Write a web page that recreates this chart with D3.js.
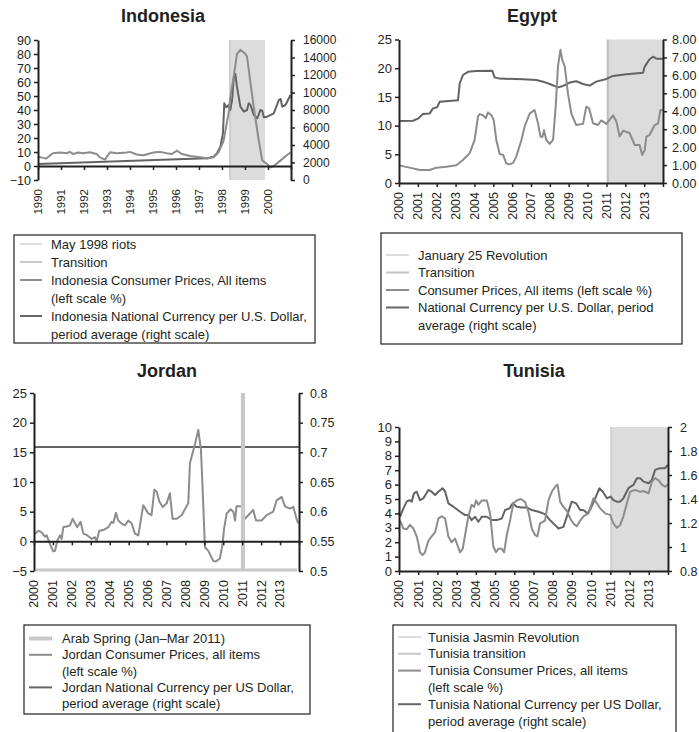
<!DOCTYPE html>
<html>
<head>
<meta charset="utf-8">
<script src="https://cdn.jsdelivr.net/npm/d3@7"></script>
<style>
  body { margin: 0; background: #fff; }
  svg { display: block; font-family: "Liberation Sans", Arial, sans-serif; }
</style>
</head>
<body>
<script>
// ---- data: [year, value] ----
var indonesiaCpi = [
  [1990.00, 6.7], [1990.22, 5.8], [1990.36, 5.3], [1990.51, 7.4], [1990.65, 9.1], [1990.95, 9.6],
  [1991.24, 9.1], [1991.38, 10.1], [1991.53, 8.6], [1991.75, 9.6], [1991.96, 9.1], [1992.25, 9.8],
  [1992.55, 8.6], [1992.69, 6.2], [1992.91, 4.6], [1993.13, 9.8], [1993.42, 9.1], [1993.85, 9.6],
  [1994.00, 10.1], [1994.29, 8.2], [1994.58, 7.7], [1995.02, 9.6], [1995.31, 10.1], [1995.60, 9.1],
  [1995.82, 8.6], [1996.04, 11.0], [1996.25, 8.6], [1996.62, 7.2], [1997.05, 6.2], [1997.35, 5.3],
  [1997.64, 6.2], [1997.85, 9.8], [1998.07, 18], [1998.29, 38], [1998.36, 49], [1998.51, 64],
  [1998.65, 80], [1998.80, 83], [1999.02, 80], [1999.09, 78], [1999.24, 59], [1999.38, 42],
  [1999.60, 18], [1999.75, 4], [1999.96, 1.4], [2000.11, -1], [2000.25, 0], [2000.55, 4],
  [2000.84, 8], [2000.98, 9.6]
];
var indonesiaFx = [
  [1990.00, 1830], [1997.35, 2480], [1997.64, 2670], [1997.78, 3050], [1997.93, 3810], [1998.04, 5330],
  [1998.10, 8760], [1998.19, 8300], [1998.29, 8570], [1998.36, 8000], [1998.44, 9140], [1998.51, 11620],
  [1998.58, 12110], [1998.65, 10670], [1998.80, 8380], [1998.95, 7810], [1999.09, 8000], [1999.16, 8760],
  [1999.24, 8570], [1999.38, 7430], [1999.53, 7050], [1999.67, 8000], [1999.75, 7920], [1999.82, 7160],
  [1999.96, 7240], [2000.25, 7620], [2000.47, 9140], [2000.55, 9260], [2000.62, 8380], [2000.76, 8570],
  [2000.98, 9710]
];
var indonesiaRiots = 1998.35;
var indonesiaTransition = [1998.35, 1999.87];

var egyptCpi = [
  [2000.00, 3.1], [2000.30, 2.85], [2000.74, 2.55], [2001.10, 2.26], [2001.63, 2.26], [2001.98, 2.67],
  [2002.51, 2.85], [2003.04, 3.1], [2003.39, 4.0], [2003.75, 5.2], [2004.01, 7.5], [2004.19, 11.6],
  [2004.28, 12.0], [2004.45, 11.8], [2004.60, 11.3], [2004.72, 12.3], [2004.90, 11.8], [2005.02, 11.0],
  [2005.16, 7.5], [2005.34, 5.05], [2005.52, 4.9], [2005.69, 3.4], [2005.87, 3.25], [2006.05, 3.5],
  [2006.22, 4.6], [2006.49, 7.5], [2006.66, 9.8], [2006.93, 12.1], [2007.19, 12.7], [2007.37, 10.4],
  [2007.50, 8.1], [2007.60, 8.0], [2007.69, 9.2], [2007.81, 7.5], [2007.99, 6.8], [2008.17, 7.5],
  [2008.31, 13.3], [2008.43, 20.3], [2008.56, 23.2], [2008.66, 21.4], [2008.79, 20.3], [2008.96, 15.6],
  [2009.14, 12.1], [2009.40, 10.1], [2009.76, 10.3], [2009.93, 13.3], [2010.08, 13.0], [2010.29, 10.4],
  [2010.55, 10.1], [2010.73, 10.9], [2011.00, 10.3], [2011.35, 11.8], [2011.53, 10.7], [2011.70, 8.1],
  [2011.88, 9.1], [2012.23, 8.7], [2012.50, 6.6], [2012.76, 6.6], [2012.90, 4.9], [2013.03, 5.75],
  [2013.12, 8.1], [2013.29, 8.4], [2013.56, 10.1], [2013.74, 10.4], [2013.86, 12.7], [2014.00, 12.7]
];
var egyptFx = [
  [2000.00, 3.46], [2000.74, 3.47], [2001.01, 3.59], [2001.27, 3.85], [2001.63, 3.88], [2001.80, 4.16],
  [2002.02, 4.22], [2002.16, 4.53], [2003.13, 4.62], [2003.22, 5.56], [2003.39, 6.02], [2003.66, 6.2],
  [2004.10, 6.25], [2004.95, 6.26], [2005.07, 5.89], [2005.34, 5.82], [2006.58, 5.78], [2007.28, 5.74],
  [2007.64, 5.65], [2007.99, 5.52], [2008.43, 5.33], [2008.70, 5.41], [2009.05, 5.6], [2009.40, 5.67],
  [2009.76, 5.52], [2010.11, 5.43], [2010.46, 5.65], [2011.00, 5.8], [2011.35, 5.97], [2012.06, 6.06],
  [2012.94, 6.15], [2013.03, 6.49], [2013.29, 6.9], [2013.47, 7.04], [2013.65, 6.93], [2014.00, 6.93]
];
var egyptRevolution = 2011.07;
var egyptTransition = [2011.07, 2014];

var jordanCpi = [
  [2000.05, 1.26], [2000.23, 1.8], [2000.40, 1.5], [2000.58, 0.8], [2000.67, 1.0], [2000.85, -0.5],
  [2001.02, -1.7], [2001.11, -1.6], [2001.23, 0.1], [2001.37, 1.0], [2001.46, 0.4], [2001.55, 2.4],
  [2001.73, 2.5], [2001.90, 2.7], [2002.04, 3.8], [2002.17, 3.0], [2002.29, 2.4], [2002.46, 3.3],
  [2002.61, 1.3], [2002.82, 1.0], [2003.05, 0.4], [2003.22, 0.7], [2003.31, 0], [2003.45, 1.8],
  [2003.66, 1.9], [2003.93, 2.4], [2004.10, 3.3], [2004.19, 3.1], [2004.33, 4.8], [2004.45, 3.5],
  [2004.63, 3.0], [2004.81, 2.7], [2004.98, 3.5], [2005.16, 3.0], [2005.33, 1.3], [2005.51, 1.0],
  [2005.60, 2.7], [2005.77, 6.1], [2005.92, 5.3], [2006.04, 4.7], [2006.21, 4.4], [2006.36, 8.7],
  [2006.48, 8.4], [2006.62, 6.7], [2006.80, 5.8], [2007.01, 6.4], [2007.18, 8.1], [2007.32, 3.8],
  [2007.54, 3.8], [2007.80, 4.4], [2008.15, 6.4], [2008.24, 13.2], [2008.33, 14.3], [2008.50, 16.3],
  [2008.68, 18.8], [2008.82, 15.4], [2008.91, 8.7], [2009.03, -1.0], [2009.21, -1.6], [2009.38, -2.7],
  [2009.47, -3.3], [2009.61, -3.4], [2009.82, -2.9], [2009.96, -0.5], [2010.04, 2.1], [2010.18, 4.7],
  [2010.39, 5.4], [2010.53, 5.0], [2010.62, 3.5], [2010.70, 5.9], [2010.97, 5.9], [2011.14, 3.8],
  [2011.32, 4.4], [2011.58, 5.3], [2011.73, 3.5], [2012.02, 3.5], [2012.29, 4.4], [2012.64, 5.0],
  [2012.82, 6.9], [2013.08, 7.5], [2013.26, 5.9], [2013.52, 5.5], [2013.70, 5.8], [2013.87, 3.8],
  [2013.96, 3.0]
];
var jordanFx = [[2000.00, 0.709], [2014.00, 0.709]];
var jordanSpring = [2010.93, 2011.15];

var tunisiaCpi = [
  [2000.05, 3.5], [2000.23, 2.95], [2000.40, 2.9], [2000.57, 3.2], [2000.75, 2.95], [2000.92, 2.4],
  [2001.01, 1.9], [2001.09, 1.3], [2001.23, 1.1], [2001.35, 1.3], [2001.53, 2.1], [2001.70, 2.4],
  [2001.88, 2.7], [2002.05, 3.65], [2002.22, 3.8], [2002.40, 3.65], [2002.57, 2.4], [2002.74, 2.0],
  [2002.92, 2.25], [2003.04, 1.8], [2003.18, 1.3], [2003.32, 1.55], [2003.44, 2.5], [2003.61, 3.8],
  [2003.78, 4.6], [2003.91, 4.45], [2004.01, 4.9], [2004.13, 4.6], [2004.31, 4.9], [2004.57, 4.9],
  [2004.74, 4.0], [2004.91, 1.7], [2005.05, 1.3], [2005.17, 1.55], [2005.35, 1.55], [2005.47, 1.3],
  [2005.61, 2.5], [2005.78, 3.5], [2005.95, 4.7], [2006.13, 4.9], [2006.34, 5.0], [2006.56, 4.8],
  [2006.74, 4.1], [2006.91, 2.95], [2007.08, 2.5], [2007.20, 2.4], [2007.34, 3.3], [2007.60, 3.5],
  [2007.78, 4.9], [2007.95, 5.5], [2008.13, 5.85], [2008.25, 6.0], [2008.39, 4.8], [2008.56, 4.45],
  [2008.73, 4.2], [2008.91, 3.65], [2009.08, 3.3], [2009.25, 3.1], [2009.43, 3.5], [2009.60, 3.8],
  [2009.86, 4.0], [2010.12, 5.05], [2010.30, 4.7], [2010.47, 4.35], [2010.73, 4.0], [2010.99, 3.9],
  [2011.16, 3.3], [2011.34, 3.0], [2011.51, 3.2], [2011.68, 3.8], [2011.86, 4.7], [2012.03, 5.5],
  [2012.20, 5.6], [2012.38, 5.6], [2012.55, 5.5], [2012.73, 5.55], [2012.99, 5.4], [2013.16, 6.2],
  [2013.33, 6.45], [2013.51, 6.3], [2013.68, 6.0], [2013.85, 5.85], [2013.99, 6.0]
];
var tunisiaFx = [
  [2000.05, 1.252], [2000.23, 1.322], [2000.40, 1.378], [2000.54, 1.39], [2000.66, 1.378], [2000.78, 1.447],
  [2000.92, 1.461], [2001.09, 1.39], [2001.27, 1.406], [2001.53, 1.475], [2001.70, 1.461], [2001.88, 1.434],
  [2002.05, 1.461], [2002.27, 1.49], [2002.40, 1.461], [2002.57, 1.364], [2002.83, 1.336], [2003.18, 1.294],
  [2003.44, 1.266], [2003.61, 1.266], [2003.78, 1.224], [2003.96, 1.252], [2004.13, 1.21], [2004.31, 1.252],
  [2004.57, 1.252], [2004.83, 1.224], [2005.09, 1.224], [2005.35, 1.238], [2005.52, 1.308], [2005.75, 1.322],
  [2005.92, 1.364], [2006.13, 1.336], [2006.39, 1.33], [2006.65, 1.33], [2006.91, 1.308], [2007.26, 1.294],
  [2007.60, 1.274], [2007.86, 1.224], [2008.13, 1.182], [2008.30, 1.154], [2008.56, 1.168], [2008.73, 1.252],
  [2008.99, 1.378], [2009.22, 1.364], [2009.43, 1.308], [2009.60, 1.308], [2009.81, 1.28], [2009.98, 1.322],
  [2010.21, 1.406], [2010.43, 1.489], [2010.61, 1.461], [2010.82, 1.406], [2011.02, 1.42], [2011.16, 1.39],
  [2011.34, 1.378], [2011.51, 1.378], [2011.68, 1.406], [2011.94, 1.49], [2012.20, 1.517], [2012.38, 1.573],
  [2012.55, 1.573], [2012.73, 1.545], [2012.99, 1.531], [2013.16, 1.559], [2013.33, 1.643], [2013.59, 1.657],
  [2013.85, 1.657], [2013.99, 1.685]
];
var tunisiaRevolution = 2011.04;
var tunisiaTransition = [2011.04, 2014];

var indonesiaYears = d3.range(1990, 2001);
var arabYears = d3.range(2000, 2014);

var indonesiaLeftTicks = d3.range(-10, 91, 10);
var indonesiaRightTicks = d3.range(0, 16001, 2000);
var egyptLeftTicks = [0, 5, 10, 15, 20, 25];
var egyptRightTicks = [0, 1, 2, 3, 4, 5, 6, 7, 8];
var jordanLeftTicks = [-5, 0, 5, 10, 15, 20, 25];
var jordanRightTicks = [0.5, 0.55, 0.6, 0.65, 0.7, 0.75, 0.8];
var tunisiaLeftTicks = d3.range(0, 11, 1);
var tunisiaRightTicks = [0.8, 1, 1.2, 1.4, 1.6, 1.8, 2];

var legendIndonesia = [
  {lines: ['May 1998 riots'], color: '#dcdcdc', width: 2},
  {lines: ['Transition'], color: '#c9c9c9', width: 2},
  {lines: ['Indonesia Consumer Prices, All items', '(left scale %)'], color: '#8c8c8c', width: 2},
  {lines: ['Indonesia National Currency per U.S. Dollar,', 'period average (right scale)'], color: '#666', width: 2}
];
var legendEgypt = [
  {lines: ['January 25 Revolution'], color: '#dcdcdc', width: 2},
  {lines: ['Transition'], color: '#c4c4c4', width: 2},
  {lines: ['Consumer Prices, All items (left scale %)'], color: '#8c8c8c', width: 2},
  {lines: ['National Currency per U.S. Dollar, period', 'average (right scale)'], color: '#666', width: 2}
];
var legendJordan = [
  {lines: ['Arab Spring (Jan\u2013Mar 2011)'], color: '#c8c8c8', width: 4},
  {lines: ['Jordan Consumer Prices, all items', '(left scale %)'], color: '#8c8c8c', width: 2},
  {lines: ['Jordan National Currency per US Dollar,', 'period average (right scale)'], color: '#666', width: 2}
];
var legendTunisia = [
  {lines: ['Tunisia Jasmin Revolution'], color: '#dcdcdc', width: 2},
  {lines: ['Tunisia transition'], color: '#c9c9c9', width: 2},
  {lines: ['Tunisia Consumer Prices, all items', '(left scale %)'], color: '#8c8c8c', width: 2},
  {lines: ['Tunisia National Currency per US Dollar,', 'period average (right scale)'], color: '#666', width: 2}
];

var cpiColor = '#8c8c8c';
var fxColor = '#636363';
var ink = '#231f20';

var svg = d3.select('body').append('svg')
  .attr('width', 699)
  .attr('height', 732);

function drawPanel(p) {
  var g = svg.append('g');
  var x = d3.scaleLinear().domain(p.xDomain).range(p.xRange);
  var yL = d3.scaleLinear().domain(p.leftDomain).range(p.yRange);
  var yR = d3.scaleLinear().domain(p.rightDomain).range(p.yRange);
  var top = p.yRange[1], bottom = p.yRange[0];

  g.append('text')
    .attr('x', p.titleX).attr('y', p.titleY)
    .attr('text-anchor', 'middle')
    .style('font-size', '18px').style('font-weight', 'bold')
    .attr('fill', ink)
    .text(p.title);

  // shaded transition period + event line
  if (p.shade) {
    g.append('rect')
      .attr('x', x(p.shade[0])).attr('y', top)
      .attr('width', x(p.shade[1]) - x(p.shade[0]))
      .attr('height', bottom - top)
      .attr('fill', '#dcdcdd');
  }
  if (p.event != null) {
    g.append('line')
      .attr('x1', x(p.event)).attr('x2', x(p.event))
      .attr('y1', top).attr('y2', bottom)
      .attr('stroke', p.eventColor || '#c4c4c4')
      .attr('stroke-width', 2);
  }

  var line = function(scale) {
    return d3.line().x(d => x(d[0])).y(d => scale(d[1]));
  };

  g.append('path').datum(p.fx)
    .attr('d', line(yR))
    .attr('fill', 'none').attr('stroke', fxColor).attr('stroke-width', 2)
    .attr('stroke-linejoin', 'round');
  g.append('path').datum(p.cpi)
    .attr('d', line(yL))
    .attr('fill', 'none').attr('stroke', cpiColor).attr('stroke-width', 2)
    .attr('stroke-linejoin', 'round');

  // Jordan style: a marker series sitting on the bottom with a spike
  if (p.spring) {
    g.append('line')
      .attr('x1', x(p.xDomain[0]) + 2).attr('x2', x(p.xDomain[1]) - 2)
      .attr('y1', bottom - 1).attr('y2', bottom - 1)
      .attr('stroke', '#c8c8c8').attr('stroke-width', 3);
    g.append('rect')
      .attr('x', x(p.spring[0])).attr('y', top)
      .attr('width', x(p.spring[1]) - x(p.spring[0]))
      .attr('height', bottom - top)
      .attr('fill', '#c8c8c8');
  }

  // axes
  var leftAxis = d3.axisLeft(yL).tickValues(p.leftTicks).tickSize(4).tickSizeOuter(0).tickPadding(3)
    .tickFormat(p.leftFormat || d3.format('d'));
  var rightAxis = d3.axisRight(yR).tickValues(p.rightTicks).tickSize(4).tickSizeOuter(0).tickPadding(p.rightPad)
    .tickFormat(p.rightFormat);
  var xAxis = d3.axisBottom(x).tickValues(d3.range(p.xDomain[0], p.xDomain[1] + 1)).tickSize(4).tickSizeOuter(0)
    .tickFormat('');

  var ga = g.append('g').attr('transform', `translate(${p.xRange[0]},0)`).call(leftAxis);
  var gb = g.append('g').attr('transform', `translate(${p.xRange[1]},0)`).call(rightAxis);
  var gx = g.append('g').attr('transform', `translate(0,${yL(p.xAxisAt)})`).call(xAxis);
  ga.selectAll('text').style('font-size', p.tickFont + 'px');
  gb.selectAll('text').style('font-size', (p.rightFont || p.tickFont) + 'px');
  [ga, gb, gx].forEach(a => {
    a.select('.domain').attr('stroke', ink).attr('stroke-width', 2);
    a.selectAll('.tick line').attr('stroke', ink).attr('stroke-width', 1.5);
    a.selectAll('text').attr('fill', ink);
  });

  g.selectAll(null)
    .data(p.years)
    .enter()
    .append('text')
      .attr('transform', d => `translate(${x(d)},${bottom + 9})rotate(-90)`)
      .attr('text-anchor', 'end')
      .attr('dy', '0.35em')
      .style('font-size', p.yearFont + 'px')
      .attr('fill', ink)
      .text(d => d);

  // legend
  var L = p.legend;
  g.append('rect')
    .attr('x', L.x).attr('y', L.y)
    .attr('width', L.w).attr('height', L.h)
    .attr('fill', 'none').attr('stroke', ink).attr('stroke-width', 1.2);
  var row = 0;
  L.items.forEach(item => {
    var cy = L.firstRow + row * L.rowH;
    g.append('line')
      .attr('x1', L.x + L.sample[0]).attr('x2', L.x + L.sample[1])
      .attr('y1', cy).attr('y2', cy)
      .attr('stroke', item.color).attr('stroke-width', item.width);
    item.lines.forEach((t, i) => {
      g.append('text')
        .attr('x', L.x + L.textX).attr('y', cy + i * L.rowH)
        .attr('dy', '0.35em')
        .style('font-size', '13px')
        .attr('fill', ink)
        .text(t);
    });
    row += item.lines.length;
  });
}

drawPanel({
  title: 'Indonesia', titleX: 163, titleY: 22,
  xDomain: [1990, 2001], xRange: [38, 291], yRange: [180, 40],
  leftDomain: [-10, 90], rightDomain: [0, 16000],
  leftTicks: indonesiaLeftTicks, rightTicks: indonesiaRightTicks,
  rightFormat: d3.format('d'), rightPad: 8, tickFont: 12.5, rightFont: 12,
  xAxisAt: 0, years: indonesiaYears, yearFont: 11.5,
  shade: indonesiaTransition, event: indonesiaRiots, eventColor: '#cfcfcf',
  cpi: indonesiaCpi, fx: indonesiaFx,
  legend: {x: 14, y: 235, w: 301, h: 108, firstRow: 244, rowH: 18, sample: [6, 28], textX: 37, items: legendIndonesia}
});

drawPanel({
  title: 'Egypt', titleX: 532, titleY: 22,
  xDomain: [2000, 2014], xRange: [399, 663], yRange: [183, 39.5],
  leftDomain: [0, 25], rightDomain: [0, 8],
  leftTicks: egyptLeftTicks, rightTicks: egyptRightTicks,
  rightFormat: d3.format('.2f'), rightPad: 5, tickFont: 13, rightFont: 12.5,
  xAxisAt: 0, years: arabYears, yearFont: 12.5,
  shade: egyptTransition, event: egyptRevolution, eventColor: '#bcbcbc',
  cpi: egyptCpi, fx: egyptFx,
  legend: {x: 381, y: 233, w: 301, h: 111, firstRow: 255, rowH: 17.5, sample: [5, 28], textX: 37, items: legendEgypt}
});

drawPanel({
  title: 'Jordan', titleX: 167, titleY: 377,
  xDomain: [2000, 2014], xRange: [34, 299], yRange: [571, 393],
  leftDomain: [-5, 25], rightDomain: [0.5, 0.8],
  leftTicks: jordanLeftTicks, rightTicks: jordanRightTicks,
  rightFormat: d => String(+d.toFixed(2)), rightPad: 7, tickFont: 13, rightFont: 12.5,
  xAxisAt: 0, years: arabYears, yearFont: 12.5,
  shade: null, event: null, spring: jordanSpring,
  cpi: jordanCpi, fx: jordanFx,
  legend: {x: 24, y: 625, w: 286, h: 89, firstRow: 638.5, rowH: 16.3, sample: [5, 28], textX: 38, items: legendJordan}
});

drawPanel({
  title: 'Tunisia', titleX: 534, titleY: 377,
  xDomain: [2000, 2014], xRange: [399, 668], yRange: [571, 427],
  leftDomain: [0, 10], rightDomain: [0.8, 2],
  leftTicks: tunisiaLeftTicks, rightTicks: tunisiaRightTicks,
  rightFormat: d => String(+d.toFixed(1)), rightPad: 8, tickFont: 13, rightFont: 12.5,
  xAxisAt: 0, years: arabYears, yearFont: 12.5,
  shade: tunisiaTransition, event: tunisiaRevolution, eventColor: '#d0d0d0',
  cpi: tunisiaCpi, fx: tunisiaFx,
  legend: {x: 393, y: 625, w: 283, h: 130, firstRow: 637, rowH: 16.8, sample: [5, 28], textX: 35, items: legendTunisia}
});
</script>
</body>
</html>
